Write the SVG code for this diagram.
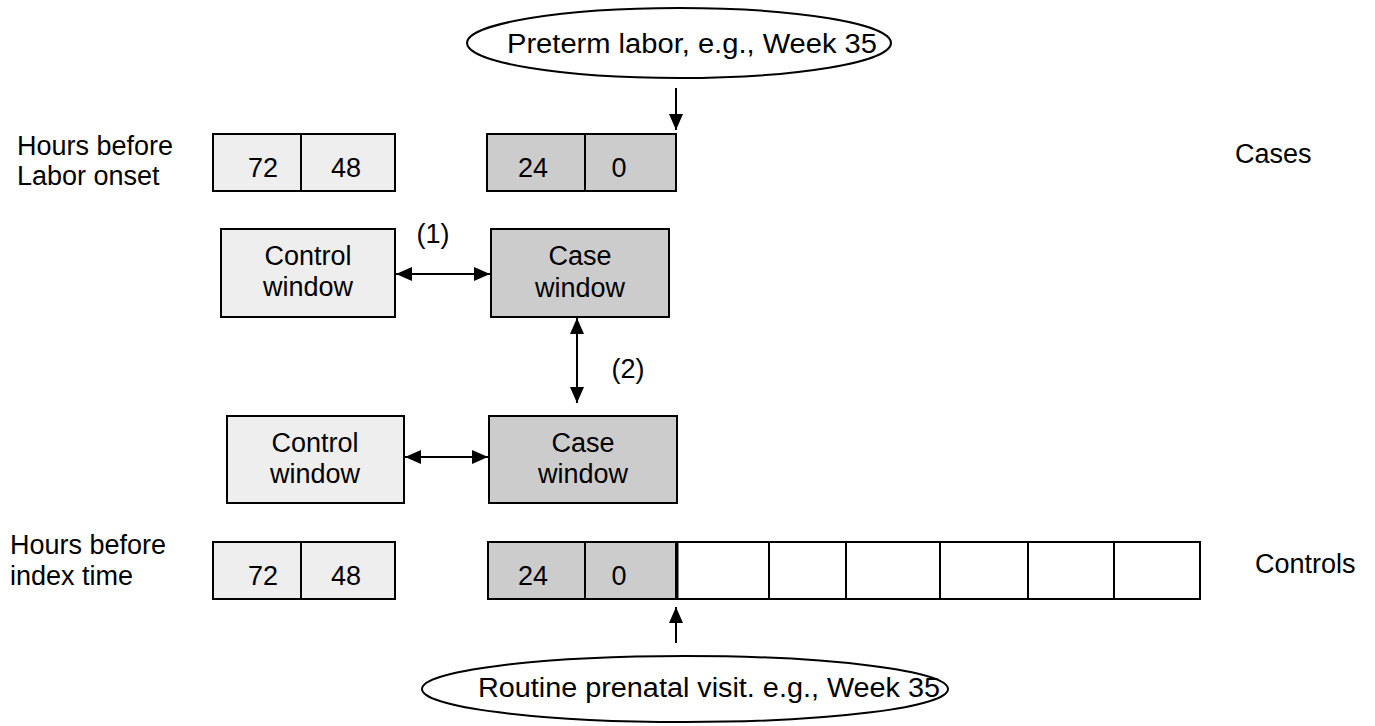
<svg xmlns="http://www.w3.org/2000/svg" width="1375" height="726" viewBox="0 0 1375 726">
<defs>
<marker id="ah" viewBox="0 0 16 16" refX="16" refY="8" markerWidth="16" markerHeight="16" markerUnits="userSpaceOnUse" orient="auto-start-reverse">
<path d="M0,1 L16,8 L0,15 Z" fill="#000"/>
</marker>
<style>
text{font-family:"Liberation Sans",Arial,sans-serif;font-size:27px;fill:#000}
.lt{fill:#eeeeee;stroke:#000;stroke-width:2}
.dk{fill:#cccccc;stroke:#000;stroke-width:2}
.wh{fill:#fff;stroke:#000;stroke-width:2}
.ln{stroke:#000;stroke-width:2;fill:none}
.c{text-anchor:middle}
</style>
</defs>
<rect width="1375" height="726" fill="#fff"/>

<g id="labels">
<text x="17" y="155">Hours before</text>
<text x="17" y="185">Labor onset</text>
<text x="10" y="554">Hours before</text>
<text x="10" y="585">index time</text>
<text x="1235" y="163">Cases</text>
<text x="1255" y="573">Controls</text>
<text x="433" y="243" class="c">(1)</text>
<text x="628" y="378" class="c">(2)</text>
</g>

<g id="preterm">
<ellipse cx="679" cy="43" rx="212" ry="35" class="wh"/>
<text x="692" y="53" class="c" textLength="370" lengthAdjust="spacingAndGlyphs">Preterm labor, e.g., Week 35</text>
</g>

<g id="routine">
<ellipse cx="685" cy="689" rx="263" ry="33" class="wh"/>
<text x="709" y="697" class="c" textLength="462" lengthAdjust="spacingAndGlyphs">Routine prenatal visit. e.g., Week 35</text>
</g>

<g id="cases-early">
<rect x="213" y="134" width="182" height="57" class="lt"/>
<line x1="301" y1="134" x2="301" y2="191" class="ln"/>
<text x="263" y="177" class="c">72</text>
<text x="346" y="177" class="c">48</text>
</g>

<g id="cases-late">
<rect x="487" y="134" width="189" height="57" class="dk"/>
<line x1="585" y1="134" x2="585" y2="191" class="ln"/>
<text x="533" y="177" class="c">24</text>
<text x="619" y="177" class="c">0</text>
</g>

<g id="control-window-1">
<rect x="221" y="229" width="174" height="88" class="lt"/>
<text x="308" y="265" class="c">Control</text>
<text x="308" y="296" class="c">window</text>
</g>

<g id="case-window-1">
<rect x="491" y="229" width="178" height="88" class="dk"/>
<text x="580" y="265" class="c">Case</text>
<text x="580" y="297" class="c">window</text>
</g>

<g id="control-window-2">
<rect x="227" y="416" width="177" height="87" class="lt"/>
<text x="315" y="452" class="c">Control</text>
<text x="315" y="483" class="c">window</text>
</g>

<g id="case-window-2">
<rect x="489" y="416" width="188" height="87" class="dk"/>
<text x="583" y="452" class="c">Case</text>
<text x="583" y="483" class="c">window</text>
</g>

<g id="controls-early">
<rect x="213" y="542" width="182" height="57" class="lt"/>
<line x1="301" y1="542" x2="301" y2="599" class="ln"/>
<text x="263" y="585" class="c">72</text>
<text x="346" y="585" class="c">48</text>
</g>

<g id="controls-late">
<rect x="488" y="542" width="188" height="57" class="dk"/>
<line x1="585" y1="542" x2="585" y2="599" class="ln"/>
<text x="533" y="585" class="c">24</text>
<text x="619" y="585" class="c">0</text>
</g>

<g id="controls-grid">
<rect x="677" y="542" width="523" height="57" class="wh"/>
<line x1="677" y1="542" x2="677" y2="599" stroke="#000" stroke-width="3"/>
<line x1="769" y1="542" x2="769" y2="599" class="ln"/>
<line x1="846" y1="542" x2="846" y2="599" class="ln"/>
<line x1="940" y1="542" x2="940" y2="599" class="ln"/>
<line x1="1028" y1="542" x2="1028" y2="599" class="ln"/>
<line x1="1114" y1="542" x2="1114" y2="599" class="ln"/>
</g>

<g id="connectors">
<line x1="676" y1="88" x2="676" y2="130" class="ln" marker-end="url(#ah)"/>
<line x1="396" y1="274" x2="490" y2="274" class="ln" marker-start="url(#ah)" marker-end="url(#ah)"/>
<line x1="577" y1="318" x2="577" y2="403" class="ln" marker-start="url(#ah)" marker-end="url(#ah)"/>
<line x1="405" y1="457" x2="488" y2="457" class="ln" marker-start="url(#ah)" marker-end="url(#ah)"/>
<line x1="676" y1="643" x2="676" y2="607" class="ln" marker-end="url(#ah)"/>
</g>
</svg>
